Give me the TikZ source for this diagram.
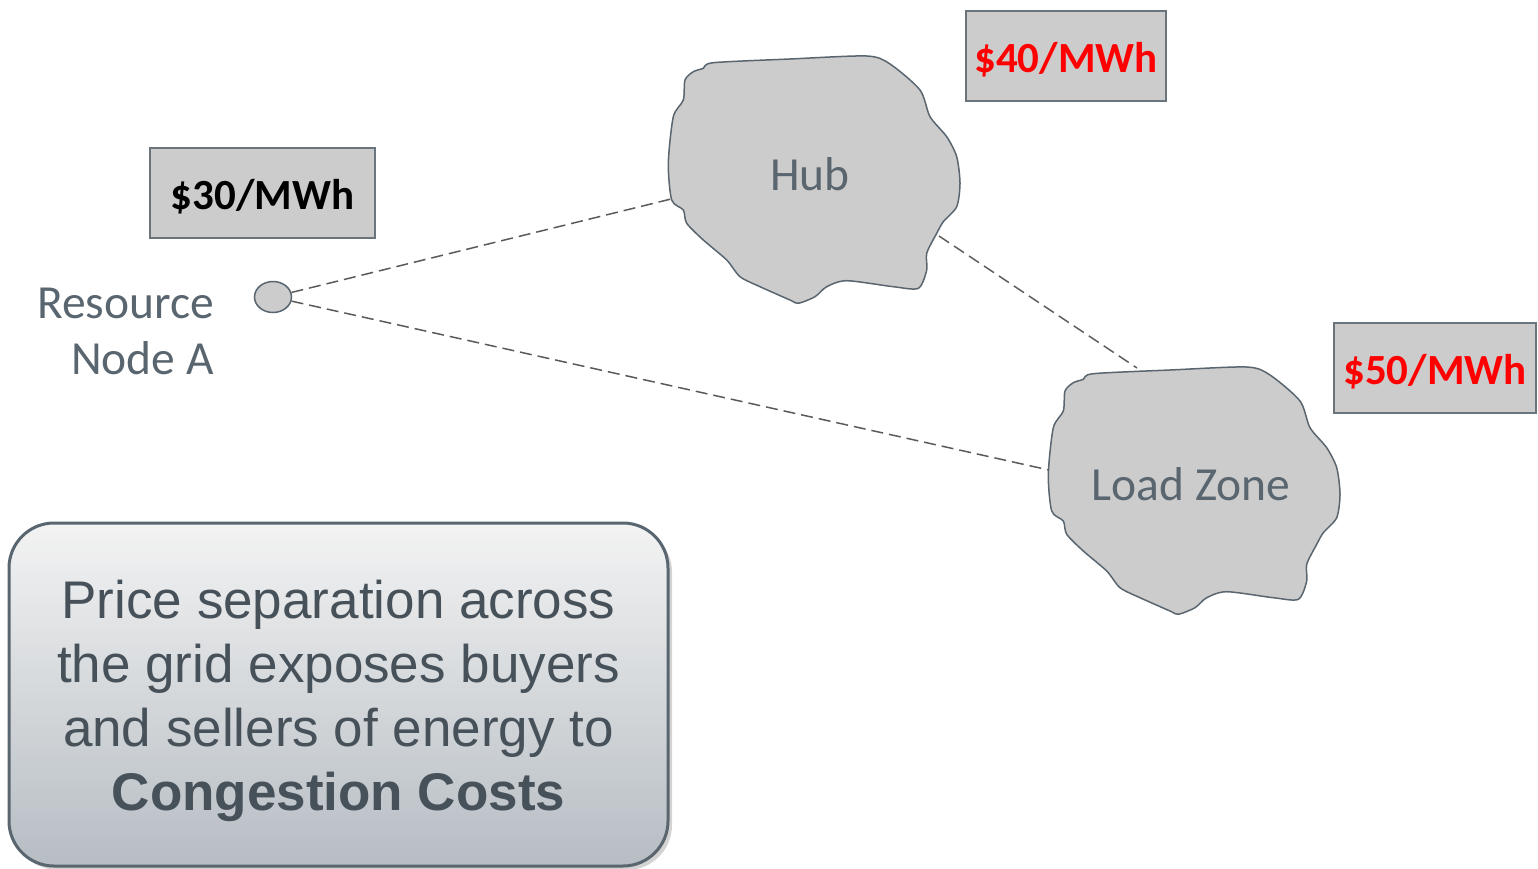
\documentclass[tikz,border=0pt]{standalone}
\usepackage{fontspec}
\setmainfont{Carlito}
\newfontfamily\arialf{Liberation Sans}
\usetikzlibrary{shadows,shapes.geometric}
\definecolor{slate}{HTML}{59656F}
\definecolor{blobfill}{HTML}{CCCCCC}
\definecolor{dashc}{HTML}{5A5A5A}
\definecolor{boxtop}{HTML}{F3F3F3}
\definecolor{boxbot}{HTML}{B6BDC3}
\definecolor{boxtext}{HTML}{47515A}
\definecolor{pricered}{HTML}{FF0000}
\tikzset{
  blob/.style={draw=slate, fill=blobfill, line width=1.5pt},
  pricebox/.style={draw=slate!90, fill=blobfill, line width=1.5pt, minimum height=90pt, inner sep=0pt,
    text height=32pt, text depth=0pt, font=\fontsize{43}{50}\selectfont\bfseries},
  link/.style={draw=dashc, line width=1.5pt, dash pattern=on 12pt off 6pt},
  lbl/.style={text=slate, inner sep=0pt, font=\fontsize{47.5}{56}\selectfont},
  msgbox/.style={draw=slate, line width=3pt, rounded corners=45pt, top color=boxtop, bottom color=boxbot,
    drop shadow={shadow xshift=4pt, shadow yshift=-4pt, opacity=0.35},
    minimum width=659pt, minimum height=343pt},
  msgtext/.style={align=center, text=boxtext, font=\arialf\fontsize{53}{64}\selectfont},
}
\newcommand{\blobpath}{plot[smooth cycle, tension=0.45] coordinates {
 (713.3,62.7) (790,59) (866.7,56) (890,64) (920,90) (930,116.7) (946.7,136.7) (956.7,156.7)
 (960,183.3) (956.7,206.7) (943.3,221.7) (936.7,233.3) (926.7,253.3) (926.7,270) (918.3,288.3)
 (893.3,286.7) (846.7,280.7) (826.7,286.7) (815,296.7) (798.3,303.3) (790,300) (760,286.7)
 (740,276.7) (726.7,260) (703.3,240) (686.7,223.3) (683.3,210) (671.7,200) (668.3,163.3)
 (673.3,116.7) (683.3,100) (685,80) (693.3,71.7) (703.3,68.3)}}
\begin{document}
\begin{tikzpicture}[x=1pt,y=-1pt]
\useasboundingbox (0,0) rectangle (1538,868);

% Hub blob
\path[blob] \blobpath;
\node[lbl, anchor=base] (hub) at (810,190) {Hub};
\coordinate (hubL) at (671,199);
\coordinate (hubR) at (939,236);

% Load Zone blob (same outline, shifted)
\begin{scope}[shift={(380,311)}]
  \path[blob] \blobpath;
  \coordinate (lzT) at (757,57);
  \coordinate (lzL) at (669,159);
\end{scope}
\node[lbl, anchor=base] (lz) at (1191,500) {Load Zone};

% Resource node A
\node[draw=slate, fill=blobfill, line width=1.5pt, ellipse, minimum width=37pt, minimum height=31pt, inner sep=0pt] (res) at (273,297) {};
\node[lbl, anchor=base east] (resA) at (214,318) {Resource};
\node[lbl, anchor=base east] (resB) at (214,374) {Node A};

% connectors
\draw[link] (res) -- (hubL);
\draw[link] (res) -- (lzL);
\draw[link] (hubR) -- (lzT);

% price boxes
\node[pricebox, minimum width=225pt, text=black] (p30) at (262.5,193) {\$30/MWh};
\node[pricebox, minimum width=200pt, text=pricered] (p40) at (1066,56) {\$40/MWh};
\node[pricebox, minimum width=202pt, text=pricered] (p50) at (1435,368) {\$50/MWh};

% message box
\node[msgbox] (msgbg) at (338.5,694.5) {};
\node[msgtext] (msg) at (338.5,701) {Price separation across\\the grid exposes buyers\\and sellers of energy to\\\textbf{Congestion Costs}};
\end{tikzpicture}
\end{document}
